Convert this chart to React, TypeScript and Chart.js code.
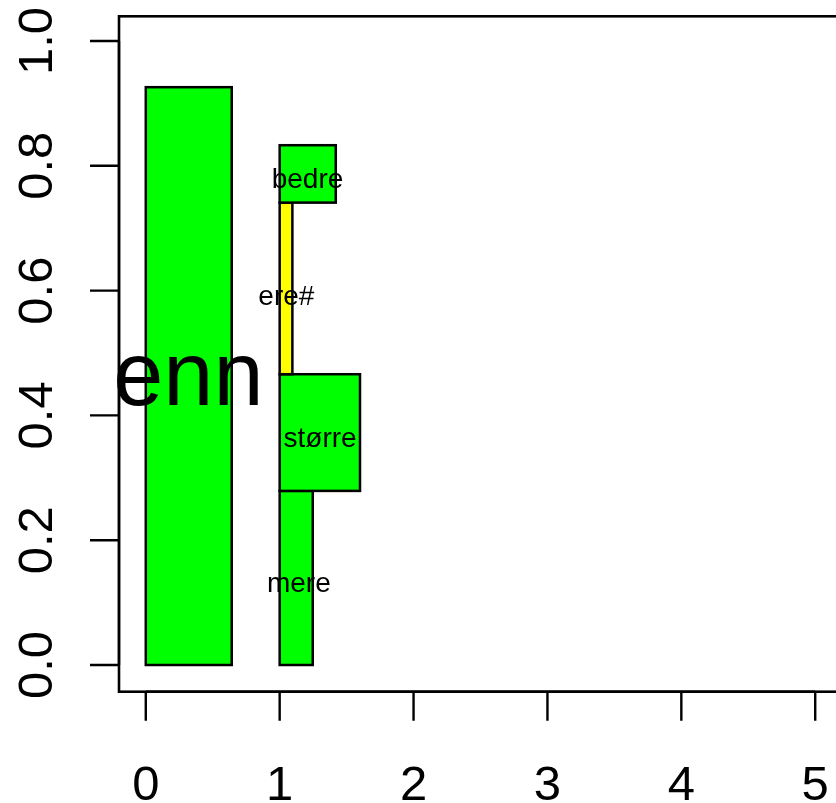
import React, { useEffect, useRef } from "react";
import { Chart, registerables } from "chart.js";

Chart.register(...registerables);

// ---- data ----
const rectLabels = ["enn", "mere", "større", "ere#", "bedre"];
const xStart = [0, 1, 1, 1, 1];
const xEnd = [0.642, 1.247, 1.6, 1.095, 1.419];
const yStart = [0, 0, 0.279, 0.466, 0.741];
const yEnd = [0.926, 0.279, 0.466, 0.741, 0.833];
const rectColors = ["#00FF00", "#00FF00", "#00FF00", "#FFFF00", "#00FF00"];
const labelX = [0.318, 1.143, 1.302, 1.05, 1.208];
const labelY = [0.417, 0.117, 0.35, 0.577, 0.764];
const labelSize = [90, 28, 28, 28, 28];

const xTicks = [0, 1, 2, 3, 4, 5];
const xTickLabels = ["0", "1", "2", "3", "4", "5"];
const yTicks = [0, 0.2, 0.4, 0.6, 0.8, 1.0];
const yTickLabels = ["0.0", "0.2", "0.4", "0.6", "0.8", "1.0"];

const FONT = "'Liberation Sans', Arial, Helvetica, sans-serif";

const drawPlugin = {
  id: "rplot",
  afterDraw(chart: any) {
    const ctx = chart.ctx as CanvasRenderingContext2D;
    const xs = chart.scales.x;
    const ys = chart.scales.y;
    const area = chart.chartArea;
    ctx.save();
    // rectangles
    for (let i = 0; i < rectLabels.length; i++) {
      const x0 = xs.getPixelForValue(xStart[i]);
      const x1 = xs.getPixelForValue(xEnd[i]);
      const y0 = ys.getPixelForValue(yStart[i]);
      const y1 = ys.getPixelForValue(yEnd[i]);
      ctx.fillStyle = rectColors[i];
      ctx.fillRect(x0, y1, x1 - x0, y0 - y1);
      ctx.strokeStyle = "#000";
      ctx.lineWidth = 2.5;
      ctx.strokeRect(x0, y1, x1 - x0, y0 - y1);
    }
    // labels
    ctx.fillStyle = "#000";
    ctx.textAlign = "center";
    ctx.textBaseline = "alphabetic";
    for (let i = 0; i < rectLabels.length; i++) {
      ctx.font = `${labelSize[i]}px ${FONT}`;
      ctx.fillText(rectLabels[i], xs.getPixelForValue(labelX[i]), ys.getPixelForValue(labelY[i]));
    }
    // box
    ctx.strokeStyle = "#000";
    ctx.lineWidth = 2.6;
    ctx.strokeRect(area.left, area.top, area.right - area.left, area.bottom - area.top);
    // x axis
    const tickLen = 29;
    ctx.beginPath();
    ctx.moveTo(xs.getPixelForValue(xTicks[0]), area.bottom);
    ctx.lineTo(xs.getPixelForValue(xTicks[xTicks.length - 1]), area.bottom);
    for (const t of xTicks) {
      const px = xs.getPixelForValue(t);
      ctx.moveTo(px, area.bottom);
      ctx.lineTo(px, area.bottom + tickLen);
    }
    // y axis
    ctx.moveTo(area.left, ys.getPixelForValue(yTicks[0]));
    ctx.lineTo(area.left, ys.getPixelForValue(yTicks[yTicks.length - 1]));
    for (const t of yTicks) {
      const py = ys.getPixelForValue(t);
      ctx.moveTo(area.left, py);
      ctx.lineTo(area.left - tickLen, py);
    }
    ctx.lineWidth = 2.4;
    ctx.stroke();
    // tick labels
    ctx.font = `49px ${FONT}`;
    ctx.fillStyle = "#000";
    ctx.textAlign = "center";
    ctx.textBaseline = "alphabetic";
    xTicks.forEach((t, i) => {
      ctx.fillText(xTickLabels[i], xs.getPixelForValue(t), area.bottom + 108);
    });
    yTicks.forEach((t, i) => {
      ctx.save();
      ctx.translate(area.left - 67, ys.getPixelForValue(t));
      ctx.rotate(-Math.PI / 2);
      ctx.fillText(yTickLabels[i], 0, 0);
      ctx.restore();
    });
    ctx.restore();
  },
};

export default function App() {
  const ref = useRef<HTMLCanvasElement | null>(null);
  useEffect(() => {
    if (!ref.current) return;
    const chart = new Chart(ref.current, {
      type: "scatter",
      data: { datasets: [{ data: [] }] },
      options: {
        animation: false,
        responsive: true,
        maintainAspectRatio: false,
        layout: { padding: { left: 119, right: 8, top: 16.3, bottom: 111.3 } },
        plugins: { legend: { display: false }, tooltip: { enabled: false } },
        scales: {
          x: { type: "linear", min: -0.2, max: 5.2, display: false },
          y: { type: "linear", min: -0.0428, max: 1.0396, display: false },
        },
      },
      plugins: [drawPlugin],
    });
    return () => chart.destroy();
  }, []);
  return (
    <div style={{ position: "fixed", left: 0, top: 0, width: 836, height: 803, overflow: "hidden", background: "#fff" }}>
      <div style={{ position: "relative", width: 850, height: 803 }}>
        <canvas ref={ref} />
      </div>
    </div>
  );
}
